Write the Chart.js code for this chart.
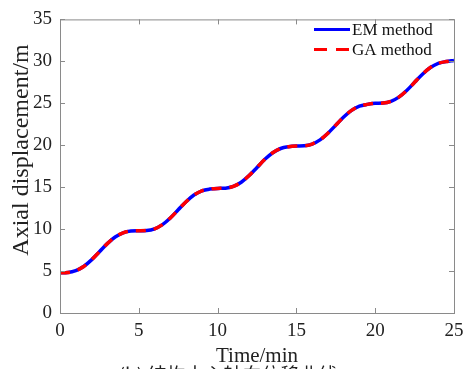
<!DOCTYPE html>
<html>
<head>
<meta charset="utf-8">
<script src="https://cdn.jsdelivr.net/npm/chart.js@4"></script>
<style>
  html, body { margin: 0; padding: 0; background: #fff; }
  #wrap { width: 473px; height: 369px; }
</style>
</head>
<body>
<div id="wrap"><canvas id="grafico"></canvas></div>
<script>
// Tempo (min) e deslocamento axial (m) das duas soluções
const tempo = [
  0, 0.5, 1, 1.5, 2, 2.5, 3, 3.5, 4, 4.5,
  5, 5.5, 6, 6.5, 7, 7.5, 8, 8.5, 9, 9.5,
  10, 10.5, 11, 11.5, 12, 12.5, 13, 13.5, 14, 14.5,
  15, 15.5, 16, 16.5, 17, 17.5, 18, 18.5, 19, 19.5,
  20, 20.5, 21, 21.5, 22, 22.5, 23, 23.5, 24, 24.5, 25
];
const deslocEM = [
  4.80, 4.83, 5.04, 5.54, 6.33, 7.30, 8.27, 9.06, 9.56, 9.77,
  9.80, 9.83, 10.04, 10.54, 11.33, 12.30, 13.27, 14.06, 14.56, 14.77,
  14.85, 14.88, 15.09, 15.59, 16.38, 17.35, 18.32, 19.11, 19.61, 19.82,
  19.90, 19.93, 20.14, 20.64, 21.43, 22.40, 23.37, 24.16, 24.66, 24.87,
  25.00, 25.03, 25.24, 25.74, 26.53, 27.50, 28.47, 29.26, 29.76, 29.97, 30.10
];
const deslocGA = [
  4.80, 4.83, 5.04, 5.54, 6.33, 7.30, 8.27, 9.06, 9.56, 9.77,
  9.80, 9.83, 10.04, 10.54, 11.33, 12.30, 13.27, 14.06, 14.56, 14.77,
  14.85, 14.88, 15.09, 15.59, 16.38, 17.35, 18.32, 19.11, 19.61, 19.82,
  19.90, 19.93, 20.14, 20.64, 21.43, 22.40, 23.37, 24.16, 24.66, 24.87,
  25.00, 25.03, 25.24, 25.74, 26.53, 27.50, 28.47, 29.26, 29.76, 29.97, 30.10
];
const ticksX = [0, 5, 10, 15, 20, 25];
const ticksY = [0, 5, 10, 15, 20, 25, 30, 35];

const serif = '"Liberation Serif", "Times New Roman", serif';
const cinza = '#8a8a8a';

function pontos(ys) {
  return tempo.map((t, i) => ({ x: t, y: ys[i] }));
}

// Moldura da área de plotagem com marcas internas (estilo MATLAB)
const moldura = {
  id: 'moldura',
  afterDatasetsDraw(chart) {
    const { ctx, chartArea: a, scales } = chart;
    ctx.save();
    ctx.strokeStyle = cinza;
    ctx.lineWidth = 1;
    ctx.strokeRect(a.left + 0.5, a.top + 0.5, a.right - a.left, a.bottom - a.top);
    ctx.beginPath();
    ticksX.forEach(v => {
      const x = Math.round(scales.x.getPixelForValue(v)) + 0.5;
      ctx.moveTo(x, a.bottom); ctx.lineTo(x, a.bottom - 5);
      ctx.moveTo(x, a.top); ctx.lineTo(x, a.top + 5);
    });
    ticksY.forEach(v => {
      const y = Math.round(scales.y.getPixelForValue(v)) + 0.5;
      ctx.moveTo(a.left, y); ctx.lineTo(a.left + 5, y);
      ctx.moveTo(a.right, y); ctx.lineTo(a.right - 5, y);
    });
    ctx.stroke();
    ctx.restore();
  },
};

// Legenda no canto superior direito, dentro dos eixos
const legenda = {
  id: 'legenda',
  afterDraw(chart) {
    const { ctx, chartArea: a } = chart;
    const x0 = a.right - 140;
    ctx.save();
    ctx.font = '17px ' + serif;
    ctx.textBaseline = 'middle';
    chart.data.datasets.forEach((ds, i) => {
      const y = a.top + 10 + i * 20;
      ctx.beginPath();
      ctx.strokeStyle = ds.borderColor;
      ctx.lineWidth = 3;
      ctx.setLineDash(ds.borderDash ? [13, 9] : []);
      ctx.moveTo(x0, y);
      ctx.lineTo(x0 + 36, y);
      ctx.stroke();
      ctx.setLineDash([]);
      ctx.fillStyle = '#111';
      ctx.fillText(ds.label, x0 + 38, y + 1);
    });
    ctx.restore();
  },
};

// Título do eixo y e legenda da figura
const textos = {
  id: 'textos',
  afterDraw(chart) {
    const { ctx } = chart;
    ctx.save();
    ctx.fillStyle = '#222';
    ctx.textAlign = 'center';
    ctx.textBaseline = 'middle';
    ctx.translate(22, 150);
    ctx.rotate(-Math.PI / 2);
    ctx.font = '24px ' + serif;
    ctx.fillText('Axial displacement/m', 0, 0);
    ctx.restore();

    ctx.save();
    ctx.font = '19px "Noto Sans CJK SC", ' + serif;
    ctx.fillStyle = '#222';
    ctx.textAlign = 'center';
    ctx.textBaseline = 'top';
    ctx.fillText('(b) 结构中心轴向位移曲线', 228, 365);
    ctx.restore();
  },
};

new Chart(document.getElementById('grafico'), {
  type: 'line',
  data: {
    datasets: [
      {
        label: 'EM method',
        data: pontos(deslocEM),
        borderColor: '#0000ff',
        borderWidth: 3.5,
        pointRadius: 0,
        tension: 0.4,
        cubicInterpolationMode: 'monotone',
        order: 2,
      },
      {
        label: 'GA method',
        data: pontos(deslocGA),
        borderColor: '#ff0000',
        borderWidth: 3.5,
        borderDash: [10, 8],
        pointRadius: 0,
        tension: 0.4,
        cubicInterpolationMode: 'monotone',
        order: 1,
      },
    ],
  },
  options: {
    responsive: true,
    maintainAspectRatio: false,
    animation: false,
    layout: { padding: { top: 14, right: 19, left: 0, bottom: 0 } },
    plugins: { legend: { display: false }, tooltip: { enabled: false } },
    scales: {
      x: {
        type: 'linear',
        min: 0,
        max: 25,
        afterBuildTicks: s => { s.ticks = ticksX.map(v => ({ value: v })); },
        afterFit: s => { s.height = 56; },
        grid: { display: false, drawTicks: false },
        border: { display: false },
        ticks: { color: '#222', padding: 7, font: { family: serif, size: 19 } },
        title: {
          display: true,
          text: 'Time/min',
          color: '#222',
          padding: { top: -4, bottom: 0 },
          font: { family: serif, size: 21 },
        },
      },
      y: {
        min: 0,
        max: 35,
        afterBuildTicks: s => { s.ticks = ticksY.map(v => ({ value: v })); },
        afterFit: s => { s.width = 60; },
        grid: { display: false, drawTicks: false },
        border: { display: false },
        ticks: { color: '#222', padding: 8, font: { family: serif, size: 19 } },
      },
    },
  },
  plugins: [moldura, legenda, textos],
});
</script>
</body>
</html>
